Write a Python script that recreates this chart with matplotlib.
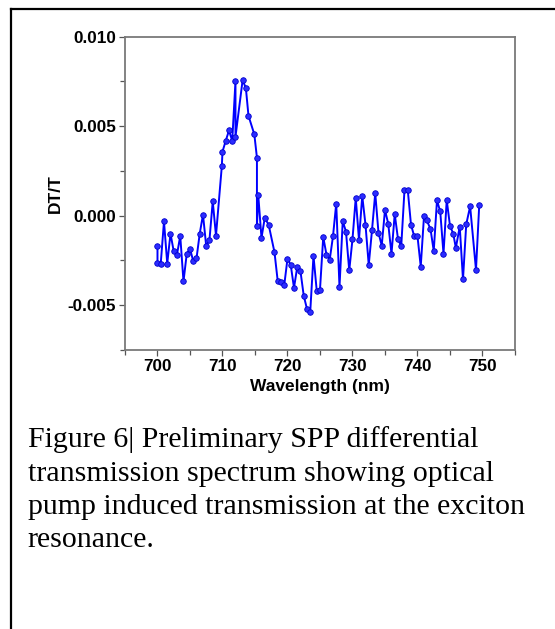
# Differential transmission spectrum (DT/T vs wavelength) with figure caption

import numpy as np
import matplotlib as mpl
mpl.use('Agg')
import matplotlib.pyplot as plt
from matplotlib.ticker import MultipleLocator
from matplotlib.lines import Line2D

mpl.rcParams['font.family'] = ['Liberation Sans', 'DejaVu Sans']

# Data
wavelength = [700.0, 700.0, 700.5, 701.0, 701.5, 702.0, 702.5, 703.0, 703.5, 704.0,
              704.5, 705.0, 705.5, 706.0, 706.5, 707.0, 707.5, 708.0, 708.5, 709.0,
              709.9, 710.0, 710.5, 711.0, 711.5, 712.0, 712.0, 713.1, 713.6, 714.0,
              714.9, 715.3, 715.3, 715.5, 716.0, 716.5, 717.1, 718.0, 718.5, 719.0,
              719.5, 720.0, 720.5, 721.0, 721.5, 722.0, 722.5, 723.0, 723.5, 724.0,
              724.5, 725.0, 725.5, 726.0, 726.5, 727.0, 727.5, 728.0, 728.5, 729.0,
              729.5, 730.0, 730.5, 731.0, 731.5, 732.0, 732.5, 733.0, 733.5, 734.0,
              734.5, 735.0, 735.5, 736.0, 736.5, 737.0, 737.5, 738.0, 738.5, 739.0,
              739.5, 740.0, 740.5, 741.0, 741.4, 742.0, 742.5, 743.0, 743.5, 744.0,
              744.5, 745.0, 745.5, 745.9, 746.5, 747.0, 747.5, 748.1, 749.0, 749.5]

dt_t = [-0.00171, -0.00263, -0.00267, -0.00032, -0.00267, -0.00100, -0.00199, -0.00217, -0.00113, -0.00367,
        -0.00213, -0.00184, -0.00254, -0.00239, -0.00100, 0.00006, -0.00171, -0.00134, 0.00080, -0.00111,
        0.00278, 0.00358, 0.00418, 0.00476, 0.00418, 0.00753, 0.00441, 0.00758, 0.00712, 0.00558,
        0.00454, 0.00324, -0.00060, 0.00116, -0.00124, -0.00013, -0.00050, -0.00204, -0.00366, -0.00369,
        -0.00388, -0.00241, -0.00275, -0.00403, -0.00287, -0.00311, -0.00447, -0.00521, -0.00537, -0.00224,
        -0.00419, -0.00413, -0.00119, -0.00218, -0.00245, -0.00115, 0.00068, -0.00399, -0.00030, -0.00089,
        -0.00306, -0.00132, 0.00099, -0.00134, 0.00110, -0.00050, -0.00275, -0.00082, 0.00126, -0.00095,
        -0.00167, 0.00032, -0.00045, -0.00213, 0.00009, -0.00130, -0.00171, 0.00143, 0.00145, -0.00050,
        -0.00115, -0.00115, -0.00284, -0.00004, -0.00024, -0.00074, -0.00197, 0.00085, 0.00024, -0.00212,
        0.00087, -0.00057, -0.00100, -0.00180, -0.00061, -0.00356, -0.00048, 0.00052, -0.00302, 0.00060]

x_ticks = [700, 710, 720, 730, 740, 750]
y_ticks = [-0.005, 0.000, 0.005, 0.010]
y_tick_labels = ['-0.005', '0.000', '0.005', '0.010']

caption = ('Figure 6| Preliminary SPP differential\n'
           'transmission spectrum showing optical\n'
           'pump induced transmission at the exciton\n'
           'resonance.')

fig = plt.figure(figsize=(5.55, 6.29), dpi=100)
ax = fig.add_axes([0.2252, 0.4436, 0.7027, 0.4981])

ax.plot(wavelength, dt_t, color='#0000ff', lw=1.4, marker='o', ms=4.0,
        mfc='#2b2bff', mec='#0000cc', mew=0.6)

ax.set_xlim(695, 755)
ax.set_ylim(-0.0075, 0.010)
ax.set_xticks(x_ticks)
ax.set_yticks(y_ticks)
ax.set_yticklabels(y_tick_labels)
ax.xaxis.set_minor_locator(MultipleLocator(5))
ax.yaxis.set_minor_locator(MultipleLocator(0.0025))

ax.tick_params(which='both', direction='out', top=False, right=False,
               color='#555555', width=0.9)
ax.tick_params(which='major', length=4.5, labelsize=12.3, pad=2)
ax.tick_params(which='minor', length=3.5)
for lab in ax.get_xticklabels() + ax.get_yticklabels():
    lab.set_fontweight('bold')

for s in ax.spines.values():
    s.set_color('#7a7a7a')
    s.set_linewidth(1.3)

ax.set_xlabel('Wavelength (nm)', fontsize=12.5, fontweight='bold', labelpad=3.5)
ax.set_ylabel('DT/T', fontsize=12.5, fontweight='bold', labelpad=3)

# caption text in serif font
fig.text(0.05, 0.322, caption, fontsize=21.5, family=['Liberation Serif', 'DejaVu Serif'],
         va='top', ha='left', linespacing=1.36)

# outer frame: only top and left edges visible
fig.add_artist(Line2D([11 / 555, 1.0], [1 - 9 / 629, 1 - 9 / 629],
                      transform=fig.transFigure, color='black', lw=1.6))
fig.add_artist(Line2D([11 / 555, 11 / 555], [0, 1 - 9 / 629],
                      transform=fig.transFigure, color='black', lw=1.6))

fig.savefig('out.png', dpi=100)
